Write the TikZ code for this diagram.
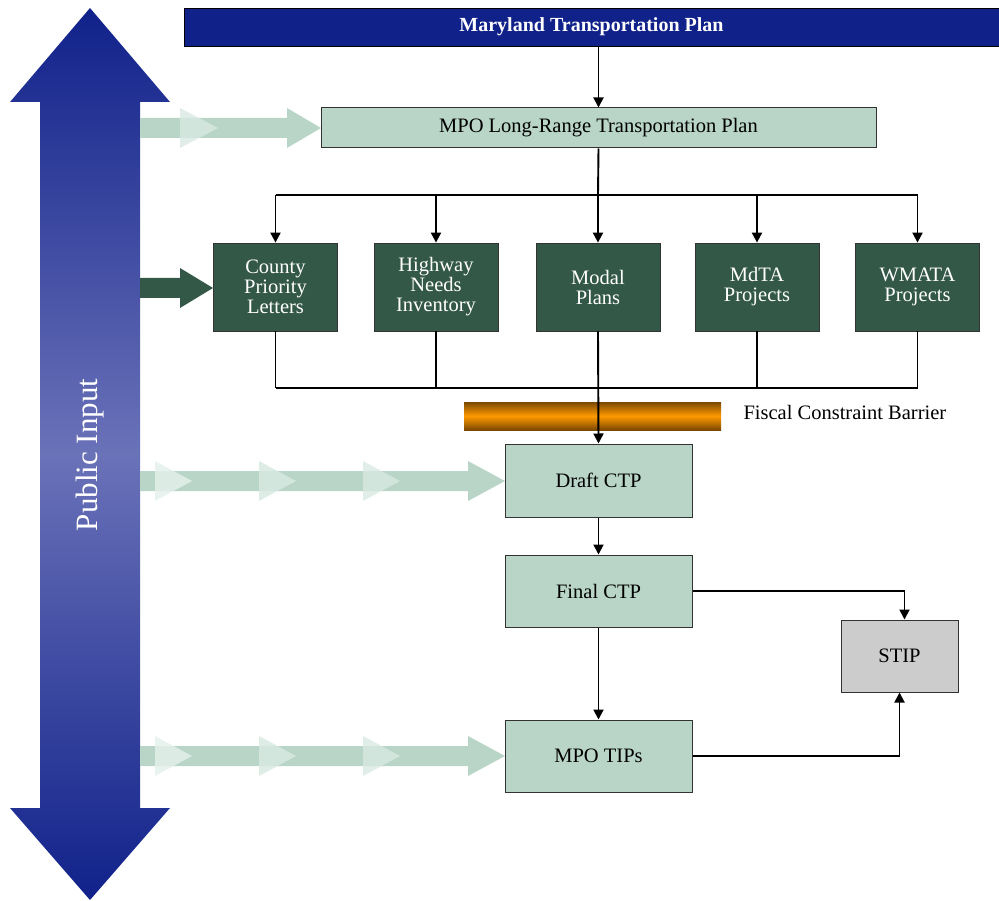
\documentclass[tikz,border=0pt]{standalone}
\usepackage{fontspec}
\setmainfont{Liberation Serif}
\usetikzlibrary{arrows.meta}
\definecolor{navy}{HTML}{10218A}
\definecolor{midblue}{HTML}{6A72B8}
\definecolor{lgreen}{HTML}{B8D5C8}
\definecolor{dgreen}{HTML}{345848}
\definecolor{fadegreen}{HTML}{D8E9E2}
\definecolor{stipgray}{HTML}{CCCCCC}
\definecolor{darkedge}{HTML}{333333}
\definecolor{barbrown}{HTML}{7A4800}
\definecolor{barorange}{HTML}{FF9A00}
\begin{document}
\begin{tikzpicture}[x=1pt,y=-1pt,
  lbox/.style={draw=darkedge,line width=1pt,fill=lgreen,inner sep=0pt,font=\fontsize{20.5}{24}\selectfont,text=black},
  gbox/.style={draw=darkedge,line width=0.8pt,fill=dgreen,inner sep=0pt,minimum width=124pt,minimum height=88pt,align=center,text=white,font=\fontsize{20.5}{20}\selectfont},
  conn/.style={line width=1.9pt,draw=black},
  arr/.style={conn,-{Triangle[length=10pt,width=10pt]}}]
\useasboundingbox (0,0) rectangle (999,901);
% left double arrow
\shade[top color=navy, bottom color=navy, middle color=midblue]
  (90,8) -- (170,102) -- (140,102) -- (140,808) -- (170,808) -- (90,900) -- (10,808) -- (40,808) -- (40,102) -- (10,102) -- cycle;
\node[rotate=90,text=white,font=\fontsize{31}{34}\selectfont] (pi) at (90,455) {Public Input};
% top bar
\node[draw=black,line width=0.8pt,fill=navy,minimum width=815pt,minimum height=38pt,inner sep=0pt,text=white,font=\bfseries\fontsize{20}{22}\selectfont] (mtp) at (591.5,27) {Maryland Transportation Plan};
% LRTP
\node[lbox,minimum width=555pt,minimum height=40pt] (lrtp) at (598.5,128) {MPO Long-Range Transportation Plan};
% light green arrows
\fill[lgreen] (140,118) -- (287,118) -- (287,108) -- (321,128) -- (287,148) -- (287,138) -- (140,138) -- cycle;
\fill[fadegreen,opacity=0.8] (180,108) -- (218,128) -- (180,148) -- cycle;
\foreach \yy in {481,756}{
  \fill[lgreen] (140,\yy-10) -- (468,\yy-10) -- (468,\yy-20) -- (505,\yy) -- (468,\yy+20) -- (468,\yy+10) -- (140,\yy+10) -- cycle;
  \fill[fadegreen!70!white,opacity=0.85] (155,\yy-20) -- (192,\yy) -- (155,\yy+20) -- cycle;
  \fill[fadegreen,opacity=0.85] (259,\yy-20) -- (296,\yy) -- (259,\yy+20) -- cycle;
  \fill[fadegreen,opacity=0.8] (363,\yy-20) -- (400,\yy) -- (363,\yy+20) -- cycle;
}
% dark green arrow
\fill[dgreen] (140,278) -- (180,278) -- (180,268) -- (213,288) -- (180,308) -- (180,298) -- (140,298) -- cycle;
% five boxes
\node[gbox] (b1) at (275.5,287) {County\\Priority\\Letters};
\node[gbox] (b2) at (436,287) {Highway\\Needs\\Inventory};
\node[gbox] (b3) at (598,287) {Modal\\Plans};
\node[gbox] (b4) at (757,287) {MdTA\\Projects};
\node[gbox] (b5) at (917.5,287) {WMATA\\Projects};
% barrier
\shade[top color=barbrown, bottom color=barbrown, middle color=barorange] (464,402) rectangle (721,430);
\node[anchor=west,font=\fontsize{20.5}{24}\selectfont] (fcb) at (740,412) {Fiscal Constraint Barrier};
% CTP boxes
\node[lbox,minimum width=187pt,minimum height=73pt] (draft) at (598.5,480.5) {Draft CTP};
\node[lbox,minimum width=187pt,minimum height=72pt] (final) at (598.5,591) {Final CTP};
\node[lbox,minimum width=187pt,minimum height=72pt] (tips) at (598.5,756) {MPO TIPs};
\node[draw=darkedge,line width=1pt,fill=stipgray,minimum width=117pt,minimum height=72pt,inner sep=0pt,font=\fontsize{20.5}{24}\selectfont] (stip) at (899.5,656) {STIP};
% connectors
\coordinate (split) at (598,195);
\coordinate (join) at (598,388);
\draw[arr] (mtp.south -| lrtp.north) -- (lrtp.north);
\draw[conn] (lrtp.south) -- (split);
\draw[conn] (b1.north |- split) -- (b5.north |- split);
\foreach \b in {b1,b2,b3,b4,b5}{\draw[arr] (\b.north |- split) -- (\b.north);}
\foreach \b in {b1,b2,b4,b5}{\draw[conn] (\b.south) -- (\b.south |- join);}
\draw[conn] (b1.south |- join) -- (b5.south |- join);
\draw[arr] (b3.south) -- (draft.north);
\draw[arr] (draft.south) -- (final.north);
\draw[arr] (final.south) -- (tips.north);
\draw[arr] (final.east) -| ([xshift=5pt]stip.north);
\draw[arr] (tips.east) -| (stip.south);
\end{tikzpicture}
\end{document}
